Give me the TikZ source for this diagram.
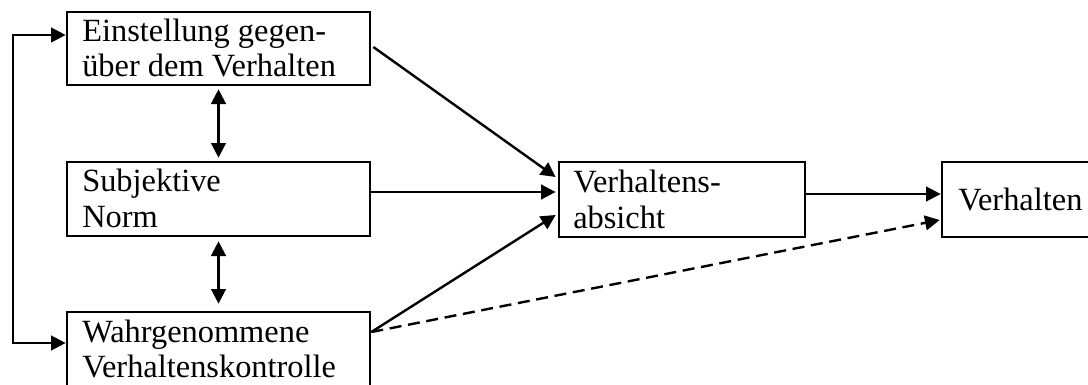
\documentclass[tikz,border=0pt]{standalone}
\usepackage{fontspec}
\setmainfont{Liberation Serif}
\usetikzlibrary{arrows.meta,calc}
\begin{document}
\begin{tikzpicture}[x=0.75pt,y=-0.75pt,
  box/.style={draw,line width=2pt,rectangle,inner sep=0pt},
  txt/.style={anchor=base west,inner sep=0pt,font=\fontsize{24.3}{27}\selectfont},
  con/.style={line width=1.8pt},
  arr/.style={con,-{Triangle[length=11pt,width=11pt]}},
  dbl/.style={con,{Triangle[length=11pt,width=11pt]}-{Triangle[length=11pt,width=11pt]}},
  dsh/.style={arr,dash pattern=on 9pt off 5pt}]
\useasboundingbox (0,0) rectangle (1088,385);
% boxes
\node[box,minimum width=227.25pt,minimum height=54.75pt] (b1) at (218.5,48.5) {};
\node[box,minimum width=227.25pt,minimum height=55.5pt] (b2) at (218.5,199) {};
\node[box,minimum width=227.25pt,minimum height=63pt] (b3) at (218.5,354) {};
\node[box,minimum width=184.5pt,minimum height=56.25pt] (b4) at (682,199.5) {};
\node[box,minimum width=114.75pt,minimum height=56.25pt] (b5) at (1018.5,199.5) {};
% texts
\node[txt] (t1a) at (82,42) {Einstellung gegen-};
\node[txt] (t1b) at (82,77) {über dem Verhalten};
\node[txt] (t2a) at (82,191) {Subjektive};
\node[txt] (t2b) at (82,227) {Norm};
\node[txt] (t3a) at (82,342) {Wahrgenommene};
\node[txt] (t3b) at (82,377) {Verhaltenskontrolle};
\node[txt] (t4a) at (573,192) {Verhaltens-};
\node[txt] (t4b) at (573,228) {absicht};
\node[txt] (t5) at (958,210) {Verhalten};
% feedback line
\coordinate (fbtop) at (13,35);
\coordinate (fbbot) at (13,343);
\draw[dbl,line join=miter] (fbtop -| b1.west) -- (fbtop) -- (fbbot) -- (fbbot -| b3.west);
% double arrows
\draw[dbl] ($(b1.south)+(0,3)$) -- ($(b2.north)+(0,-3)$);
\draw[dbl] ($(b2.south)+(0,4)$) -- ($(b3.north)+(0,-7)$);
% to intention
\coordinate (p1) at ($(b1.east)+(2,-1.5)$);
\coordinate (p2) at ($(b2.east)+(-2,-7)$);
\coordinate (p3) at ($(b3.east)+(0,-22)$);
\draw[arr] (p1) -- ($(b4.west)+(-2,-22.5)$);
\draw[arr] (p2) -- ($(b4.west)+(-2,-7.5)$);
\draw[arr] (p3) -- ($(b4.west)+(-2,15.5)$);
\draw[dsh] (p3) -- ($(b5.west)+(-1,20.5)$);
\draw[arr] ($(b4.east)+(0,-5.5)$) -- ($(b5.west)+(0,-5.5)$);
\end{tikzpicture}
\end{document}
